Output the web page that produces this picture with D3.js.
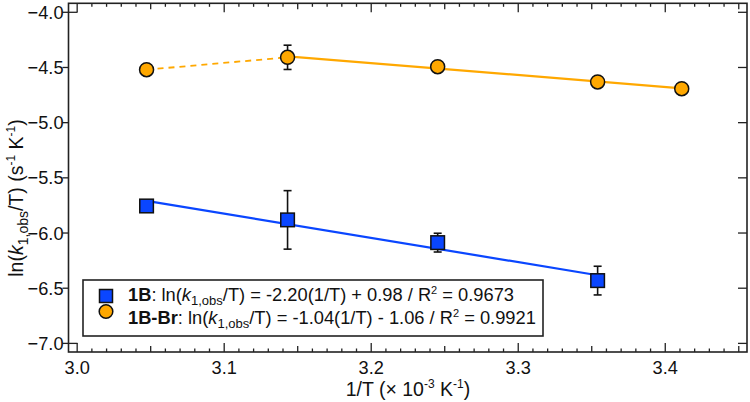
<!DOCTYPE html>
<html><head><meta charset="utf-8">
<script src="https://cdn.jsdelivr.net/npm/d3@7"></script>
<style>body{margin:0;background:#fff}svg{display:block}text{font-family:"Liberation Sans",Arial,sans-serif;fill:#111}</style>
</head><body><svg id="c" width="750" height="402"></svg>
<script>
// ---- data ----
const blueX = [3.0472, 3.1431, 3.2452, 3.354];
const blueY = [-5.755, -5.881, -6.087, -6.431];
const blueErr = [0, 0.265, 0.085, 0.13];
const orangeX = [3.0472, 3.1431, 3.2452, 3.354, 3.4112];
const orangeY = [-4.52, -4.408, -4.493, -4.631, -4.692];
const orangeErr = [0, 0.11, 0, 0.03, 0];
const xTicks = [3.0, 3.1, 3.2, 3.3, 3.4];
const yTicks = [-4.0, -4.5, -5.0, -5.5, -6.0, -6.5, -7.0];
const xLimits = [2.9941, 3.4556];
const yLimits = [-7.078, -3.9185];

const BLUE = "#0a46ff", ORANGE = "#ffa800", AX = "#222";
const svg = d3.select("#c");
const L = 68.5, R = 747, T = 3.3, B = 352;
const x = d3.scaleLinear().domain(xLimits).range([L, R]);
const y = d3.scaleLinear().domain(yLimits).range([B, T]);
const fmt = d3.format(".1f");
const FT = 18.2, FS = 19.5, FL = 18.3;

// ---- axes ----
const g = svg.append("g");
const allX = d3.range(300, 346).map(v => v / 100);
allX.forEach(v => {
  const k = Math.round(v * 100);
  const len = k % 10 === 0 ? 9 : (k % 5 === 0 ? 6 : 3.5);
  g.append("line").attr("x1", x(v)).attr("x2", x(v)).attr("y1", B).attr("y2", B - len).attr("stroke", AX).attr("stroke-width", 1.3);
  g.append("line").attr("x1", x(v)).attr("x2", x(v)).attr("y1", T).attr("y2", T + len).attr("stroke", AX).attr("stroke-width", 1.3);
});
yTicks.forEach(v => {
  g.append("line").attr("x1", L).attr("x2", L - 6).attr("y1", y(v)).attr("y2", y(v)).attr("stroke", AX).attr("stroke-width", 1.3);
  g.append("line").attr("x1", R).attr("x2", R - 9).attr("y1", y(v)).attr("y2", y(v)).attr("stroke", AX).attr("stroke-width", 1.3);
});
[yTicks[0], yTicks[yTicks.length - 1]].forEach(v => {
  g.append("line").attr("x1", L).attr("x2", L + 9).attr("y1", y(v)).attr("y2", y(v)).attr("stroke", AX).attr("stroke-width", 1.3);
});
g.append("rect").attr("x", L).attr("y", T).attr("width", R - L).attr("height", B - T)
  .attr("fill", "none").attr("stroke", AX).attr("stroke-width", 1.6);
xTicks.forEach(v => g.append("text").attr("x", x(v)).attr("y", 374).attr("text-anchor", "middle")
  .attr("font-size", FT).text(fmt(v)));
yTicks.forEach(v => g.append("text").attr("x", 63.5).attr("y", y(v) + 6.5).attr("text-anchor", "end")
  .attr("font-size", FT).text(fmt(v).replace("-", "\u2212")));

// axis titles
const xt = svg.append("text").attr("x", 408).attr("y", 396).attr("text-anchor", "middle").attr("font-size", FS);
xt.append("tspan").text("1/T (\u00d7 10");
xt.append("tspan").attr("dy", -8).attr("font-size", 12).text("-3");
xt.append("tspan").attr("dy", 8).text(" K");
xt.append("tspan").attr("dy", -8).attr("font-size", 12).text("-1");
xt.append("tspan").attr("dy", 8).text(")");

const yt = svg.append("text").attr("transform", "translate(23,198) rotate(-90)").attr("text-anchor", "middle").attr("font-size", FS);
yt.append("tspan").text("ln(");
yt.append("tspan").attr("font-style", "italic").text("k");
yt.append("tspan").attr("dy", 4.5).attr("font-size", 14).text("1,obs");
yt.append("tspan").attr("dy", -4.5).text("/T) (s");
yt.append("tspan").attr("dy", -8).attr("font-size", 12).text("-1");
yt.append("tspan").attr("dy", 8).text(" K");
yt.append("tspan").attr("dy", -8).attr("font-size", 12).text("-1");
yt.append("tspan").attr("dy", 8).text(")");

// ---- fit lines (least squares on the data) ----
function fit(xs, ys) {
  const mx = d3.mean(xs), my = d3.mean(ys);
  const sxy = d3.sum(xs, (v, i) => (v - mx) * (ys[i] - my));
  const sxx = d3.sum(xs, v => (v - mx) * (v - mx));
  const m = sxy / sxx; return { m, b: my - m * mx };
}
const line = d3.line().x(d => x(d[0])).y(d => y(d[1]));
const bf = fit(blueX, blueY);
const bx0 = d3.min(blueX), bx1 = d3.max(blueX);
svg.append("path").attr("d", line([[bx0, bf.m * bx0 + bf.b], [bx1, bf.m * bx1 + bf.b]]))
  .attr("stroke", BLUE).attr("stroke-width", 2.2).attr("fill", "none");
const oxs = orangeX.slice(1), oys = orangeY.slice(1);
const of = fit(oxs, oys);
const ox0 = d3.min(oxs), ox1 = d3.max(oxs);
svg.append("path").attr("d", line([[ox0, of.m * ox0 + of.b], [ox1, of.m * ox1 + of.b]]))
  .attr("stroke", ORANGE).attr("stroke-width", 2.2).attr("fill", "none");
svg.append("path").attr("d", line([[orangeX[0], orangeY[0]], [orangeX[1], orangeY[1]]]))
  .attr("stroke", ORANGE).attr("stroke-width", 1.8).attr("stroke-dasharray", "6,5").attr("fill", "none");

// ---- error bars ----
function errBars(xs, ys, es) {
  xs.forEach((v, i) => {
    if (!es[i]) return;
    const cx = x(v), y1 = y(ys[i] + es[i]), y2 = y(ys[i] - es[i]);
    const eg = svg.append("g").attr("stroke", "#111").attr("stroke-width", 1.6);
    eg.append("line").attr("x1", cx).attr("x2", cx).attr("y1", y1).attr("y2", y2);
    eg.append("line").attr("x1", cx - 4).attr("x2", cx + 4).attr("y1", y1).attr("y2", y1);
    eg.append("line").attr("x1", cx - 4).attr("x2", cx + 4).attr("y1", y2).attr("y2", y2);
  });
}
errBars(blueX, blueY, blueErr);
errBars(orangeX, orangeY, orangeErr);

// ---- markers ----
svg.append("g").selectAll("rect").data(blueX).join("rect")
  .attr("x", (d) => x(d) - 6.8).attr("y", (d, i) => y(blueY[i]) - 6.8).attr("width", 13.6).attr("height", 13.6)
  .attr("fill", BLUE).attr("stroke", "#111").attr("stroke-width", 1.5);
svg.append("g").selectAll("circle").data(orangeX).join("circle")
  .attr("cx", d => x(d)).attr("cy", (d, i) => y(orangeY[i])).attr("r", 7)
  .attr("fill", ORANGE).attr("stroke", "#111").attr("stroke-width", 1.5);

// ---- legend ----
const lg = svg.append("g");
lg.append("rect").attr("x", 83).attr("y", 280).attr("width", 460).attr("height", 56)
  .attr("fill", "#fff").attr("stroke", AX).attr("stroke-width", 1.6);
lg.append("rect").attr("x", 99.5).attr("y", 289.5).attr("width", 13).attr("height", 13)
  .attr("fill", BLUE).attr("stroke", "#111").attr("stroke-width", 1.5);
lg.append("circle").attr("cx", 106).attr("cy", 311.5).attr("r", 6.8)
  .attr("fill", ORANGE).attr("stroke", "#111").attr("stroke-width", 1.5);
const legendRows = [
  { name: "1B", eq: "/T) = -2.20(1/T) + 0.98 / R", r2: " = 0.9673", yy: 301 },
  { name: "1B-Br", eq: "/T) = -1.04(1/T) - 1.06 / R", r2: " = 0.9921", yy: 324 }
];
legendRows.forEach(r => {
  const t = lg.append("text").attr("x", 128).attr("y", r.yy).attr("font-size", FL);
  t.append("tspan").attr("font-weight", "bold").text(r.name);
  t.append("tspan").text(": ln(");
  t.append("tspan").attr("font-style", "italic").text("k");
  t.append("tspan").attr("dy", 4).attr("font-size", 13).text("1,obs");
  t.append("tspan").attr("dy", -4).text(r.eq);
  t.append("tspan").attr("dy", -7.5).attr("font-size", 11).text("2");
  t.append("tspan").attr("dy", 7.5).text(r.r2);
});
</script></body></html>
